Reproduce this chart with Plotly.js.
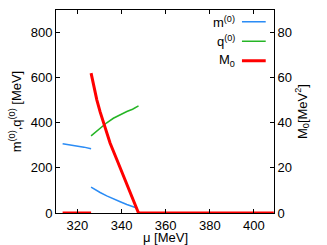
<!DOCTYPE html>
<html><head><meta charset="utf-8">
<script src="https://cdn.plot.ly/plotly-3.0.1.min.js"></script>
<style>html,body{margin:0;padding:0;background:#fff}#c{width:327px;height:245px}</style>
</head><body><div id="c"></div>
<script>
// m^(0) upper branch
const mUpX = [313.3, 316.5, 319.7, 323.0, 326.2];
const mUpY = [307, 303, 298, 292, 285];
// m^(0) lower branch
const mLoX = [326.2, 328.3, 330.3, 333.3, 336.3, 339.4, 342.4, 344.7, 346.9];
const mLoY = [115, 102, 91, 76, 62, 50, 38, 30, 22];
// q^(0)
const qX = [326.2, 328.3, 330.3, 333.3, 336.3, 339.4, 342.4, 345.0, 347.7];
const qY = [342, 360, 376, 400, 420, 436, 450, 460, 475];
// M_0 (right axis)
const M0aX = [313.3, 326.2];
const M0aY = [0, 0];
const M0bX = [326.2, 327.5, 328.8, 330.3, 331.8, 334.8, 337.9, 340.9, 343.9, 346.0, 347.7];
const M0bY = [62, 55.5, 50.2, 44.8, 39.9, 31, 23.6, 16.2, 8.9, 4.2, 0];
const M0cX = [347.7, 409];
const M0cY = [0, 0];

const xTicks = [320, 340, 360, 380, 400];
const yTicks = [0, 200, 400, 600, 800];
const y2Ticks = [0, 20, 40, 60, 80];
const legendNames = ['m<sup>(0)</sup>', 'q<sup>(0)</sup>', 'M<sub>0</sub>'];
const xTitle = 'μ [MeV]';

const blue = '#2b8cf5', green = '#25b525', red = '#ff0000';
const lineT = (x, y, c, w, ax) => ({x, y, type: 'scatter', mode: 'lines', line: {color: c, width: w}, yaxis: ax, showlegend: false, cliponaxis: false, hoverinfo: 'skip'});

const data = [
  lineT(mUpX, mUpY, blue, 1.5, 'y'),
  lineT(mLoX, mLoY, blue, 1.5, 'y'),
  lineT(qX, qY, green, 1.5, 'y'),
  lineT(M0aX, M0aY, red, 3, 'y2'),
  lineT(M0bX, M0bY, red, 3, 'y2'),
  lineT(M0cX, M0cY, red, 3, 'y2')
];

const font = {family: 'Liberation Sans, Arial, sans-serif', size: 13, color: '#000'};
const axBase = {showgrid: false, zeroline: false, showline: true, linecolor: '#000', linewidth: 1,
  ticks: 'inside', ticklen: 4, tickcolor: '#000', tickfont: font};

// legend (paper coords)
const legY = [0.942, 0.846, 0.75];
const legC = [blue, green, red];
const legW = [1.5, 1.5, 3];
const annotations = legendNames.map((t, i) => ({xref: 'paper', yref: 'paper', x: 0.83, y: legY[i],
  text: t, showarrow: false, xanchor: 'right', yanchor: 'middle', font: font}));
annotations.push({xref: 'paper', yref: 'paper', x: 0.5, y: -0.08, text: xTitle, showarrow: false,
  xanchor: 'center', yanchor: 'top', font: font, borderpad: 0});
const shapes = legendNames.map((t, i) => ({type: 'line', xref: 'paper', yref: 'paper',
  x0: 0.853, x1: 0.962, y0: legY[i], y1: legY[i], line: {color: legC[i], width: legW[i]}}));

const layout = {
  width: 327, height: 245,
  margin: {l: 56, r: 53, t: 10, b: 32},
  paper_bgcolor: '#fff', plot_bgcolor: '#fff',
  font: font,
  showlegend: false,
  xaxis: Object.assign({}, axBase, {range: [310.3, 409.1], tickvals: xTicks, mirror: 'ticks'}),
  yaxis: Object.assign({}, axBase, {range: [0, 900], tickvals: yTicks,
    title: {text: 'm<sup>(0)</sup>,q<sup>(0)</sup> [MeV]', font: font, standoff: 6}}),
  yaxis2: Object.assign({}, axBase, {range: [0, 90], tickvals: y2Ticks, overlaying: 'y', side: 'right',
    title: {text: 'M<sub>0</sub>[MeV<sup>2</sup>]', font: font, standoff: 6}}),
  annotations: annotations,
  shapes: shapes
};

Plotly.newPlot('c', data, layout, {staticPlot: true, displayModeBar: false});
</script></body></html>
